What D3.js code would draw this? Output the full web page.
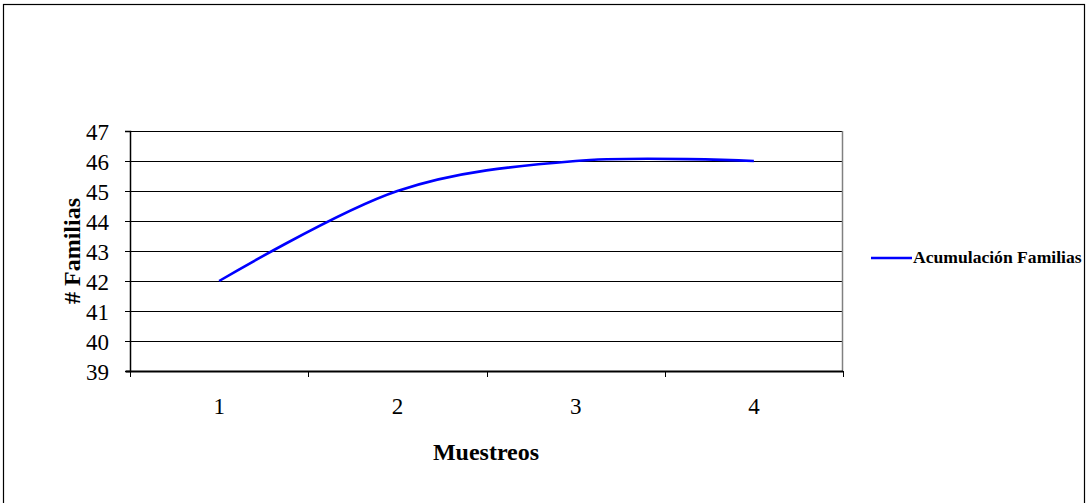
<!DOCTYPE html>
<html><head><meta charset="utf-8">
<script src="https://cdn.jsdelivr.net/npm/d3@7"></script>
<style>body{margin:0;background:#fff}svg{display:block}text{font-family:"Liberation Serif","Times New Roman",serif}</style>
</head><body>
<script>
const categories = ["1","2","3","4"];
const seriesName = "Acumulación Familias";
const values = [42, 45, 46, 46];
const yTicks = [39,40,41,42,43,44,45,46,47];

const W = 1088, H = 503;
const svg = d3.select("body").append("svg").attr("width", W).attr("height", H);
const font = "Liberation Serif, Times New Roman, serif";

// outer chart border
svg.append("rect").attr("x",3.5).attr("y",4.5).attr("width",1081).attr("height",520)
  .attr("fill","none").attr("stroke","#000").attr("stroke-width",1.2);

const L = 130, R = 843, T = 131, B = 371;
const x = d3.scaleBand().domain(categories).range([L, R]);
const y = d3.scaleLinear().domain([39, 47]).range([B, T]);

// gridlines
svg.append("g").selectAll("line").data(yTicks).join("line")
  .attr("x1", L).attr("x2", R)
  .attr("y1", d => Math.round(y(d)) + 0.5).attr("y2", d => Math.round(y(d)) + 0.5)
  .attr("stroke", "#000").attr("stroke-width", 1);

// right border of plot area
svg.append("line").attr("x1", R - 0.5).attr("x2", R - 0.5).attr("y1", T).attr("y2", B)
  .attr("stroke", "#808080").attr("stroke-width", 1.5);

// y axis
const yAxis = svg.append("g").attr("transform", `translate(${L},0)`)
  .call(d3.axisLeft(y).tickValues(yTicks).tickSize(5).tickPadding(16).tickFormat(d3.format("d")));
yAxis.attr("font-family", null);
yAxis.select(".domain").attr("stroke","#000").attr("stroke-width",1.5);
yAxis.selectAll(".tick line").attr("stroke","#000");
yAxis.selectAll("text").attr("font-family", font).attr("font-size", 23).attr("fill","#000").attr("dy","0.36em");

// x axis
const xAxis = svg.append("g").attr("transform", `translate(0,${B})`)
  .call(d3.axisBottom(x).tickSize(0).tickPadding(27));
xAxis.attr("font-family", null);
xAxis.select(".domain").remove();
xAxis.selectAll("text").attr("font-family", font).attr("font-size", 23).attr("fill","#000");
svg.append("line").attr("x1", L - 4).attr("x2", R).attr("y1", B + 0.5).attr("y2", B + 0.5)
  .attr("stroke","#000").attr("stroke-width",2);
const bounds = categories.map(c => x(c)).concat([R]);
svg.append("g").selectAll("line").data(bounds).join("line")
  .attr("x1", d => Math.round(d) + 0.5).attr("x2", d => Math.round(d) + 0.5)
  .attr("y1", B).attr("y2", B + 6).attr("stroke", "#000").attr("stroke-width", 1);

// line
const line = d3.line()
  .x((d, i) => x(categories[i]) + x.bandwidth() / 2)
  .y(d => y(d))
  .curve(d3.curveCardinal.tension(0));
svg.append("path").datum(values).attr("d", line)
  .attr("fill","none").attr("stroke","#0000FF").attr("stroke-width",2.6);

// axis titles
svg.append("text").attr("x", 486).attr("y", 460).attr("text-anchor","middle")
  .attr("font-family", font).attr("font-weight","bold").attr("font-size", 24).text("Muestreos");
svg.append("text").attr("transform", `translate(80,${(T + B) / 2}) rotate(-90)`)
  .attr("text-anchor","middle").attr("font-family", font).attr("font-weight","bold")
  .attr("font-size", 24).text("# Familias");

// legend
svg.append("line").attr("x1", 871).attr("x2", 912).attr("y1", 258).attr("y2", 258)
  .attr("stroke","#0000FF").attr("stroke-width",2.6);
svg.append("text").attr("x", 913).attr("y", 263).attr("font-family", font)
  .attr("font-weight","bold").attr("font-size", 17.6).text(seriesName);
</script>
</body></html>
